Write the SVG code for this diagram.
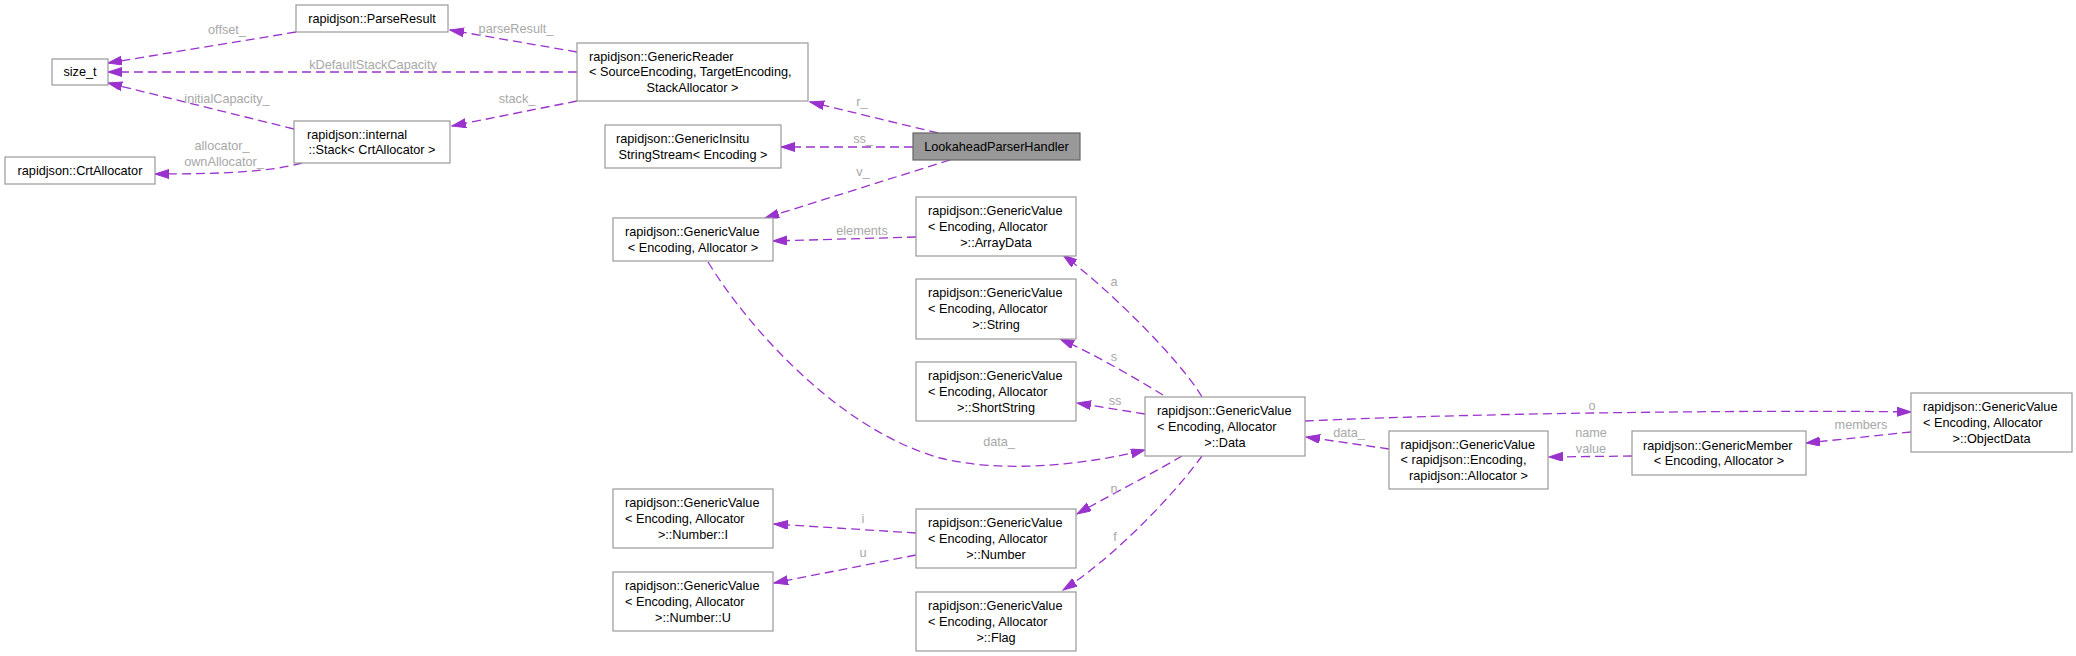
<svg xmlns="http://www.w3.org/2000/svg" width="2076" height="656" viewBox="0 0 2076 656">
<style>
.n rect{fill:#fff;stroke:#999;stroke-width:1.2}
.n text{font-family:"Liberation Sans",Arial,sans-serif;font-size:12.7px;fill:#000}
.m{text-anchor:middle}
.e path{fill:none;stroke:#9a32cd;stroke-width:1.3;stroke-dasharray:9,5;marker-end:url(#ah)}
.l text{font-family:"Liberation Sans",Arial,sans-serif;font-size:12.7px;fill:#a8a8a8;text-anchor:middle}
</style>
<defs>
<marker id="ah" markerUnits="userSpaceOnUse" markerWidth="15" markerHeight="10" refX="14" refY="4.5" orient="auto">
<path d="M0,0 L14,4.5 L0,9 z" fill="#9a32cd" stroke="#9a32cd" stroke-width="1"/>
</marker>
</defs>
<rect width="2076" height="656" fill="#fff"/>
<g id="connectors">
<g class="e">
<path d="M296,32 L108,63"/>
<path d="M577,72 L108,72"/>
<path d="M294,129 L108,83"/>
<path d="M302,163 C270,172 220,174 155,174"/>
<path d="M577,52 L450,30"/>
<path d="M577,101 L452,126"/>
<path d="M938,133 L810,102"/>
<path d="M913,147 L781,147"/>
<path d="M950,160 L765,218"/>
<path d="M916,237 L773,241"/>
<path d="M708,262 C750,330 840,430 940,458 C1000,473 1080,466 1145,450"/>
<path d="M1202,397 C1180,360 1110,290 1063,255"/>
<path d="M1163,395 C1130,375 1090,352 1060,339"/>
<path d="M1145,414 L1077,403"/>
<path d="M1182,456 C1150,475 1110,495 1077,514"/>
<path d="M1202,456 C1170,500 1110,560 1063,590"/>
<path d="M916,533 L774,524"/>
<path d="M916,555 L774,583"/>
<path d="M1305,421 C1500,412 1800,410 1911,412"/>
<path d="M1389,449 L1306,437"/>
<path d="M1632,456 L1549,457"/>
<path d="M1911,432 L1806,443"/>
</g>
<g class="l">
<text x="227" y="34.3">offset_</text>
<text x="516" y="33.3">parseResult_</text>
<text x="373" y="69.3">kDefaultStackCapacity</text>
<text x="227" y="103.3">initialCapacity_</text>
<text x="517" y="103.3">stack_</text>
<text x="222" y="150.3">allocator_</text>
<text x="224" y="166.3">ownAllocator_</text>
<text x="862" y="106.3">r_</text>
<text x="863" y="143.3">ss_</text>
<text x="863" y="176.3">v_</text>
<text x="862" y="235.3">elements</text>
<text x="1114" y="286.3">a</text>
<text x="1114" y="361.3">s</text>
<text x="1115" y="405.3">ss</text>
<text x="999" y="446.3">data_</text>
<text x="1114" y="493.3">n</text>
<text x="1115" y="541.3">f</text>
<text x="863" y="523.3">i</text>
<text x="863" y="557.3">u</text>
<text x="1592" y="410.3">o</text>
<text x="1349" y="437.3">data_</text>
<text x="1591" y="437.3">name</text>
<text x="1591" y="453.3">value</text>
<text x="1861" y="429.3">members</text>
</g>
</g>
<g id="size_t" class="n"><rect x="52" y="59" width="56" height="26"/><text class="m" x="80" y="76.3">size_t</text></g>
<g id="ParseResult" class="n"><rect x="296" y="5" width="152" height="27"/><text class="m" x="372" y="22.8">rapidjson::ParseResult</text></g>
<g id="Stack" class="n"><rect x="294" y="121" width="156" height="42"/><text x="307" y="138.5">rapidjson::internal</text><text class="m" x="372" y="154.1">::Stack&lt; CrtAllocator &gt;</text></g>
<g id="CrtAllocator" class="n"><rect x="5" y="157" width="150" height="27"/><text class="m" x="80" y="174.8">rapidjson::CrtAllocator</text></g>
<g id="GenericReader" class="n"><rect x="577" y="43" width="231" height="58"/><text x="589" y="60.6">rapidjson::GenericReader</text><text x="589" y="76.3">&lt; SourceEncoding, TargetEncoding,</text><text class="m" x="692.5" y="92">StackAllocator &gt;</text></g>
<g id="GenericInsitu" class="n"><rect x="605" y="125" width="176" height="43"/><text x="616" y="143">rapidjson::GenericInsitu</text><text class="m" x="693" y="158.6">StringStream&lt; Encoding &gt;</text></g>
<g id="LookaheadParserHandler" class="n"><rect x="913" y="133" width="167" height="27" style="fill:#999;stroke:#666"/><text class="m" x="996.5" y="150.8">LookaheadParserHandler</text></g>
<g id="GenericValue" class="n"><rect x="613" y="218" width="160" height="43"/><text x="625" y="236">rapidjson::GenericValue</text><text class="m" x="693" y="251.6">&lt; Encoding, Allocator &gt;</text></g>
<g id="ArrayData" class="n"><rect x="916" y="197" width="160" height="59"/><text x="928" y="215.1">rapidjson::GenericValue</text><text x="928" y="230.8">&lt; Encoding, Allocator</text><text class="m" x="996" y="246.5">&gt;::ArrayData</text></g>
<g id="String" class="n"><rect x="916" y="279" width="160" height="60"/><text x="928" y="297.1">rapidjson::GenericValue</text><text x="928" y="312.8">&lt; Encoding, Allocator</text><text class="m" x="996" y="328.5">&gt;::String</text></g>
<g id="ShortString" class="n"><rect x="916" y="362" width="160" height="59"/><text x="928" y="380.1">rapidjson::GenericValue</text><text x="928" y="395.8">&lt; Encoding, Allocator</text><text class="m" x="996" y="411.5">&gt;::ShortString</text></g>
<g id="Data" class="n"><rect x="1145" y="397" width="160" height="59"/><text x="1157" y="415.1">rapidjson::GenericValue</text><text x="1157" y="430.8">&lt; Encoding, Allocator</text><text class="m" x="1225" y="446.5">&gt;::Data</text></g>
<g id="Number" class="n"><rect x="916" y="509" width="160" height="59"/><text x="928" y="527.1">rapidjson::GenericValue</text><text x="928" y="542.8">&lt; Encoding, Allocator</text><text class="m" x="996" y="558.5">&gt;::Number</text></g>
<g id="Flag" class="n"><rect x="916" y="592" width="160" height="59"/><text x="928" y="610.1">rapidjson::GenericValue</text><text x="928" y="625.8">&lt; Encoding, Allocator</text><text class="m" x="996" y="641.5">&gt;::Flag</text></g>
<g id="NumberI" class="n"><rect x="613" y="489" width="160" height="59"/><text x="625" y="507.1">rapidjson::GenericValue</text><text x="625" y="522.8">&lt; Encoding, Allocator</text><text class="m" x="693" y="538.5">&gt;::Number::I</text></g>
<g id="NumberU" class="n"><rect x="613" y="572" width="160" height="59"/><text x="625" y="590.1">rapidjson::GenericValue</text><text x="625" y="605.8">&lt; Encoding, Allocator</text><text class="m" x="693" y="621.5">&gt;::Number::U</text></g>
<g id="GenericValueRapid" class="n"><rect x="1389" y="431" width="159" height="58"/><text x="1400.5" y="448.6">rapidjson::GenericValue</text><text x="1400.5" y="464.3">&lt; rapidjson::Encoding,</text><text class="m" x="1468.5" y="480">rapidjson::Allocator &gt;</text></g>
<g id="GenericMember" class="n"><rect x="1632" y="431" width="174" height="44"/><text x="1643" y="449.5">rapidjson::GenericMember</text><text class="m" x="1719" y="465.1">&lt; Encoding, Allocator &gt;</text></g>
<g id="ObjectData" class="n"><rect x="1911" y="393" width="161" height="59"/><text x="1923" y="411.1">rapidjson::GenericValue</text><text x="1923" y="426.8">&lt; Encoding, Allocator</text><text class="m" x="1991.5" y="442.5">&gt;::ObjectData</text></g>
</svg>
